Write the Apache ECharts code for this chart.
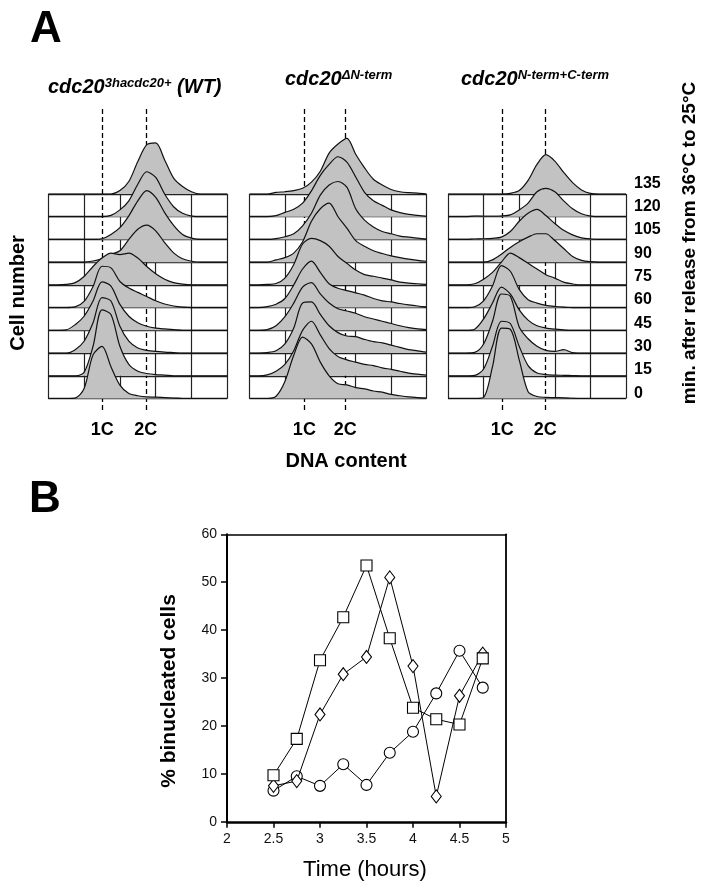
<!DOCTYPE html>
<html><head><meta charset="utf-8">
<script src="https://cdn.jsdelivr.net/npm/echarts@6/dist/echarts.min.js"></script>
<style>html,body{margin:0;padding:0;background:#fff}#c{width:702px;height:893px}</style>
</head><body><div id="c"></div>
<script>
// ---------- DATA ----------
// DNA-content channel positions (0..100 across the frame)
const channels = [0,5,10,15,20,25,30,35,40,45,50,55,60,65,70,75,80,85,90,95,100];
// time points (min after release), bottom row to top row
const timeLabels = [0,15,30,45,60,75,90,105,120,135];
// histogram heights (in row units) for each time point, one row per time
const histWT = [
 [0,0,0,0.02,0.44,1.92,2.29,1.40,0.59,0.22,0.12,0.07,0.06,0.04,0.02,0,0,0,0,0,0],
 [0,0,0,0,0.15,1.30,2.90,2.70,1.30,0.50,0.20,0.10,0.05,0.03,0,0,0,0,0,0,0],
 [0,0,0,0.15,0.52,1.33,2.44,2.29,1.18,0.52,0.22,0.12,0.07,0.04,0.02,0,0,0,0,0,0],
 [0,0,0.02,0.25,0.62,1.29,2.13,1.95,1.14,0.62,0.33,0.18,0.10,0.06,0.03,0,0,0,0,0,0],
 [0,0,0,0.03,0.27,0.93,1.82,1.75,1.15,0.86,0.67,0.49,0.30,0.16,0.07,0.02,0,0,0,0,0],
 [0,0,0.02,0.10,0.37,0.81,1.18,1.40,1.33,1.40,1.18,0.81,0.49,0.25,0.10,0.03,0,0,0,0,0],
 [0,0,0,0,0,0.05,0.15,0.35,0.50,1.00,1.45,1.63,1.38,0.86,0.41,0.15,0.04,0,0,0,0],
 [0,0,0,0,0,0,0.03,0.22,0.52,1.04,1.70,2.15,1.85,1.18,0.62,0.22,0.06,0,0,0,0],
 [0,0,0,0,0,0,0,0.06,0.30,0.70,1.43,1.98,1.73,1.00,0.44,0.15,0.03,0,0,0,0],
 [0,0,0,0,0,0,0,0,0.15,0.55,1.43,2.17,2.25,1.50,0.70,0.33,0.10,0,0,0,0]
];
const histDN = [
 [0,0,0,0.10,0.75,1.90,2.70,2.40,1.60,1.00,0.65,0.60,0.48,0.42,0.33,0.28,0.18,0.12,0.07,0.04,0.02],
 [0,0,0.04,0.20,0.50,1.10,2.00,2.40,1.80,1.20,0.85,0.70,0.60,0.50,0.45,0.35,0.28,0.20,0.12,0.07,0.03],
 [0,0,0.02,0.10,0.40,1.10,2.20,2.25,1.70,1.20,0.90,0.75,0.72,0.60,0.50,0.45,0.35,0.25,0.15,0.10,0.04],
 [0,0,0.03,0.20,0.60,1.20,1.90,2.10,1.60,1.20,0.95,0.85,0.75,0.60,0.50,0.40,0.30,0.20,0.12,0.06,0.03],
 [0,0,0.04,0.15,0.40,1.00,1.70,2.05,1.55,1.05,0.85,0.75,0.65,0.55,0.40,0.30,0.25,0.18,0.12,0.07,0.03],
 [0,0,0.02,0.06,0.30,0.90,1.80,2.05,1.95,1.70,1.25,0.95,0.65,0.45,0.38,0.30,0.22,0.12,0.08,0.05,0.02],
 [0,0,0,0.10,0.20,0.40,0.90,1.80,2.35,2.60,2.00,1.50,0.95,0.70,0.50,0.38,0.28,0.20,0.13,0.08,0.04],
 [0,0,0,0.04,0.12,0.25,0.60,1.15,1.95,2.40,2.55,2.30,1.35,0.85,0.55,0.35,0.25,0.15,0.10,0.06,0.02],
 [0,0,0,0.05,0.19,0.33,0.60,1.14,1.82,2.30,2.64,2.40,1.75,1.07,0.70,0.50,0.30,0.18,0.10,0.06,0.02],
 [0,0,0,0.07,0.10,0.15,0.25,0.52,1.00,1.80,2.20,2.45,1.75,1.15,0.65,0.40,0.20,0.10,0.06,0.04,0]
];
const histNC = [
 [0,0,0,0,0.05,1.40,3.10,3.05,1.70,0.30,0.09,0.05,0.04,0.03,0.01,0,0,0,0,0,0],
 [0,0,0,0.02,0.30,1.30,2.40,2.30,1.30,0.45,0.12,0.05,0.03,0.02,0.01,0,0,0,0,0,0],
 [0,0,0,0.03,0.40,1.40,2.60,2.50,1.15,0.63,0.30,0.12,0.07,0.15,0.02,0,0,0,0,0,0],
 [0,0,0,0.05,0.50,1.20,1.90,1.60,0.90,0.45,0.20,0.10,0.05,0.02,0,0,0,0,0,0,0],
 [0,0,0,0.04,0.30,0.95,1.85,1.60,0.80,0.35,0.20,0.10,0.05,0.02,0,0,0,0,0,0,0],
 [0,0,0,0.05,0.25,0.55,1.00,1.40,1.20,0.95,0.70,0.45,0.30,0.12,0.04,0,0,0,0,0,0],
 [0,0,0,0,0,0.10,0.35,0.65,0.90,1.10,1.25,1.25,0.95,0.60,0.25,0.08,0.02,0,0,0,0],
 [0,0,0,0.02,0.03,0.05,0.10,0.35,0.80,1.15,1.32,1.05,0.70,0.40,0.20,0.07,0.02,0,0,0,0],
 [0,0,0,0.03,0.02,0.02,0.03,0.08,0.30,0.60,1.10,1.25,1.10,0.70,0.35,0.13,0.03,0,0,0,0],
 [0,0,0,0,0,0,0,0.03,0.15,0.60,1.30,1.73,1.45,0.95,0.50,0.18,0.03,0,0,0,0]
];
// 1C / 2C reference positions (channel units)
const markNames = ['1C','2C'];
const marksWT = [30.2, 54.5];
const marksDN = [31.0, 54.1];
const marksNC = [30.5, 54.7];

// Panel B
const timeHours = [2.5,2.75,3,3.25,3.5,3.75,4,4.25,4.5,4.75];
const squares  = [9.7,17.3,33.7,42.7,53.5,38.3,23.8,21.4,20.3,34.1];
const diamonds = [7.5,8.5,22.4,30.8,34.4,51.0,32.5,5.3,26.3,35.1];
const circles  = [6.5,9.5,7.5,12.0,7.7,14.4,18.8,26.8,35.7,28.0];

// ---------- LAYOUT ----------
const FONT = "'Liberation Sans', Arial, Helvetica, sans-serif";
const panels = [
  {hist: histWT, marks: marksWT, left: 48.3, width: 179},
  {hist: histDN, marks: marksDN, left: 249.5, width: 177},
  {hist: histNC, marks: marksNC, left: 448, width: 178}
];
const BOX_TOP = 194, BOX_H = 204.5, ROW = BOX_H / 9;
const H_TOP = 108, H_BOT = 410;
const yMinB = -(H_BOT - (BOX_TOP + BOX_H)) / ROW;
const yMaxB = (BOX_TOP + BOX_H - H_TOP) / ROW;
const FILL = '#c2c2c2';

const grid = [], xAxis = [], yAxis = [], series = [];

// frame grids (0..2)
panels.forEach((p) => {
  const gi = grid.length;
  grid.push({left: p.left, top: BOX_TOP, width: p.width, height: BOX_H});
  xAxis.push({gridIndex: gi, type: 'value', min: 0, max: 100, interval: 20,
    axisLine: {show: false}, axisTick: {show: false}, axisLabel: {show: false},
    splitLine: {show: true, showMinLine: true, showMaxLine: true, lineStyle: {color: '#222', width: 1.2}}});
  yAxis.push({gridIndex: gi, type: 'value', min: 0, max: 9, interval: 1,
    axisLine: {show: false}, axisTick: {show: false}, axisLabel: {show: false},
    splitLine: {show: true, showMinLine: true, showMaxLine: true, lineStyle: {color: '#222', width: 1.3}}});
});
// histogram grids (3..5)
panels.forEach((p) => {
  const gi = grid.length;
  grid.push({left: p.left, top: H_TOP, width: p.width, height: H_BOT - H_TOP});
  xAxis.push({gridIndex: gi, type: 'value', min: 0, max: 100,
    axisLine: {show: false}, axisTick: {show: false}, splitLine: {show: false},
    axisLabel: {show: true, customValues: p.marks, margin: 11, color: '#000',
      fontFamily: FONT, fontWeight: 'bold', fontSize: 18,
      formatter: (v) => { const k = p.marks.indexOf(v); return k >= 0 ? markNames[k] : ''; }}});
  yAxis.push({gridIndex: gi, type: 'value', min: yMinB, max: yMaxB, show: false});
  p.hist.forEach((h, t) => {
    series.push({
      type: 'line', xAxisIndex: gi, yAxisIndex: gi, silent: true, animation: false,
      symbol: 'none', smooth: 0.3,
      data: channels.map((c, k) => [c, t + h[k]]),
      lineStyle: {color: '#111', width: 1.2},
      areaStyle: {origin: t, color: FILL, opacity: 1},
      z: 20 + (9 - t)
    });
  });
  series.push({
    type: 'line', xAxisIndex: gi, yAxisIndex: gi, data: [], silent: true, animation: false, z: 60,
    markLine: {symbol: 'none', silent: true, animation: false, label: {show: false},
      lineStyle: {type: [5, 3], color: '#000', width: 1.3},
      data: p.marks.map(v => ({xAxis: v}))}
  });
});
// time labels grid (6)
grid.push({left: 448, top: 183.3, width: 178, height: 210});
xAxis.push({gridIndex: 6, type: 'value', show: false, min: 0, max: 1});
yAxis.push({gridIndex: 6, type: 'value', position: 'right', min: 0, max: 135, interval: 15,
  axisLine: {show: false}, axisTick: {show: false}, splitLine: {show: false},
  axisLabel: {margin: 8, color: '#000', fontFamily: FONT, fontWeight: 'bold', fontSize: 16}});
// panel B grid (7)
grid.push({left: 227, top: 534.3, width: 279, height: 287.5});
xAxis.push({gridIndex: 7, type: 'value', min: 2, max: 5, interval: 0.5,
  axisLine: {onZero: false, lineStyle: {color: '#000', width: 2.5}},
  axisTick: {length: 6, lineStyle: {color: '#000', width: 1.5}},
  axisLabel: {margin: 10, color: '#111', fontFamily: FONT, fontSize: 14},
  splitLine: {show: false}});
xAxis.push({gridIndex: 7, type: 'value', min: 2, max: 5, position: 'top',
  axisLine: {onZero: false, lineStyle: {color: '#000', width: 1.5}},
  axisTick: {show: false}, axisLabel: {show: false}, splitLine: {show: false}});
yAxis.push({gridIndex: 7, type: 'value', min: 0, max: 60, interval: 10,
  axisLine: {show: true, onZero: false, lineStyle: {color: '#000', width: 2}},
  axisTick: {show: true, length: 6, lineStyle: {color: '#000', width: 1.5}},
  axisLabel: {margin: 10, color: '#111', fontFamily: FONT, fontSize: 14},
  splitLine: {show: false}});
yAxis.push({gridIndex: 7, type: 'value', min: 0, max: 60, position: 'right',
  axisLine: {show: true, onZero: false, lineStyle: {color: '#000', width: 1.8}},
  axisTick: {show: false}, axisLabel: {show: false}, splitLine: {show: false}});

const mk = (name, vals, symbol, size, z) => ({
  type: 'line', name, xAxisIndex: 7, yAxisIndex: 7, animation: false, z,
  data: timeHours.map((t, i) => [t, vals[i]]),
  symbol, symbolSize: size,
  lineStyle: {color: '#000', width: 1},
  itemStyle: {color: '#fff', borderColor: '#000', borderWidth: 1.1}
});
series.push(mk('circles', circles, 'circle', 11, 30));
series.push(mk('diamonds', diamonds, 'diamond', [10, 13], 31));
series.push(mk('squares', squares, 'rect', 11, 32));

const T = (text, x, y, font, opts) => Object.assign({
  type: 'text', x, y, silent: true,
  style: Object.assign({text, font, fill: '#000', align: 'center', verticalAlign: 'middle',
    textAlign: 'center', textVerticalAlign: 'middle'}, (opts && opts.style) || {})
}, opts && opts.rotation !== undefined ? {rotation: opts.rotation} : {});

const richT = (main, sup, tail, x, y) => ({
  type: 'text', x, y, silent: true,
  style: {
    text: '{m|' + main + '}{s|' + sup + '}' + (tail ? '{m|' + tail + '}' : ''),
    align: 'left', verticalAlign: 'top', textAlign: 'left', textVerticalAlign: 'top',
    rich: {
      m: {font: 'italic bold 20px ' + FONT, fill: '#000', verticalAlign: 'top'},
      s: {font: 'italic bold 13px ' + FONT, fill: '#000', verticalAlign: 'top'}
    }
  }
});

const graphic = [
  T('A', 46, 30, 'bold 44px ' + FONT),
  T('B', 45, 500, 'bold 44px ' + FONT),
  richT('cdc20', '3hacdc20+', ' (WT)', 48, 77),
  richT('cdc20', '\u0394N-term', '', 285, 69),
  richT('cdc20', 'N-term+C-term', '', 461, 69),
  T('Cell number', 18, 293, 'bold 20px ' + FONT, {rotation: Math.PI / 2}),
  T('DNA content', 346, 461, 'bold 20px ' + FONT),
  T('min. after release from 36\u00B0C to 25\u00B0C', 690, 243, 'bold 19px ' + FONT, {rotation: Math.PI / 2}),
  T('% binucleated cells', 169, 691, 'bold 21px ' + FONT, {rotation: Math.PI / 2}),
  T('Time (hours)', 365, 870, '22px ' + FONT)
];

const chart = echarts.init(document.getElementById('c'), null, {renderer: 'canvas'});
chart.setOption({animation: false, backgroundColor: '#fff', grid, xAxis, yAxis, series, graphic});
</script></body></html>
